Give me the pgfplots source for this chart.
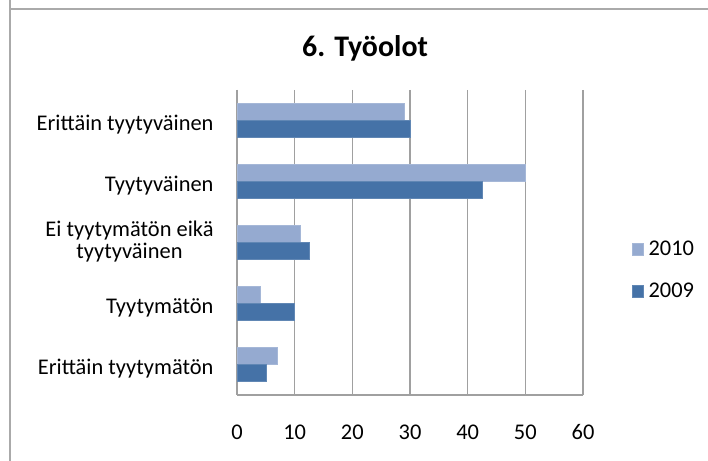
\documentclass[border=0pt]{standalone}
\usepackage{pgfplots}
\pgfplotsset{compat=1.18}
\usepackage{fontspec}
\setmainfont{Carlito}
\definecolor{cA}{RGB}{149,170,208}
\definecolor{cB}{RGB}{69,114,167}
\definecolor{gridc}{RGB}{160,160,160}
\definecolor{framec}{RGB}{170,170,170}
\begin{document}
\begin{tikzpicture}[x=1bp,y=1bp]
\path[use as bounding box] (0,0) rectangle (708,461);
\draw[framec, line width=1.5bp] (10,0) -- (10,461);
\draw[framec, line width=1.5bp] (10,452) -- (708,452);
\node[font=\fontsize{30}{34}\selectfont\bfseries] at (365,413) {6. Työolot};
\begin{axis}[
  at={(237bp,66bp)}, anchor=south west,
  scale only axis, width=346bp, height=305bp,
  xbar, xmin=0, xmax=60, ymin=-0.5, ymax=4.5, y dir=reverse,
  xtick={0,10,...,60}, ytick={0,1,2,3,4},
  yticklabels={Erittäin tyytyväinen, Tyytyväinen, {\raisebox{-6bp}{\begin{tabular}[b]{@{}c@{}}Ei tyytymätön eikä\\tyytyväinen\end{tabular}}}, Tyytymätön, Erittäin tyytymätön},
  axis x line*=bottom, axis y line*=left,
  axis line style={gridc, line width=1.2bp, -},
  xmajorgrids, grid style={gridc, line width=1.2bp},
  major tick length=0pt,
  /pgf/number format/assume math mode=true,
  tick label style={font=\fontsize{22.5}{21}\selectfont, black},
  yticklabel style={anchor=base east, xshift=-20bp, yshift=-10bp},
  xticklabel style={yshift=-26bp},
  bar width=0.28,
  legend style={draw=none, fill=none, inner sep=0pt, row sep=22bp,
    font=\fontsize{22.5}{24}\selectfont,
    nodes={inner xsep=5bp, inner ysep=2bp, anchor=west},
    anchor=west, at={(rel axis cs:1.1416,0.41)}},
  legend cell align=left,
  legend image code/.code={\fill[#1] (0bp,-6bp) rectangle (11bp,6bp);},
]
\addplot[fill=cA, draw=cA!85!white, bar shift=-0.14] coordinates {(29,0) (50,1) (11,2) (4,3) (7,4)};
\addplot[fill=cB, draw=cB!85!white, bar shift=0.14] coordinates {(30,0) (42.6,1) (12.5,2) (10,3) (5,4)};
\legend{2010,2009}
\end{axis}
\end{tikzpicture}
\end{document}
